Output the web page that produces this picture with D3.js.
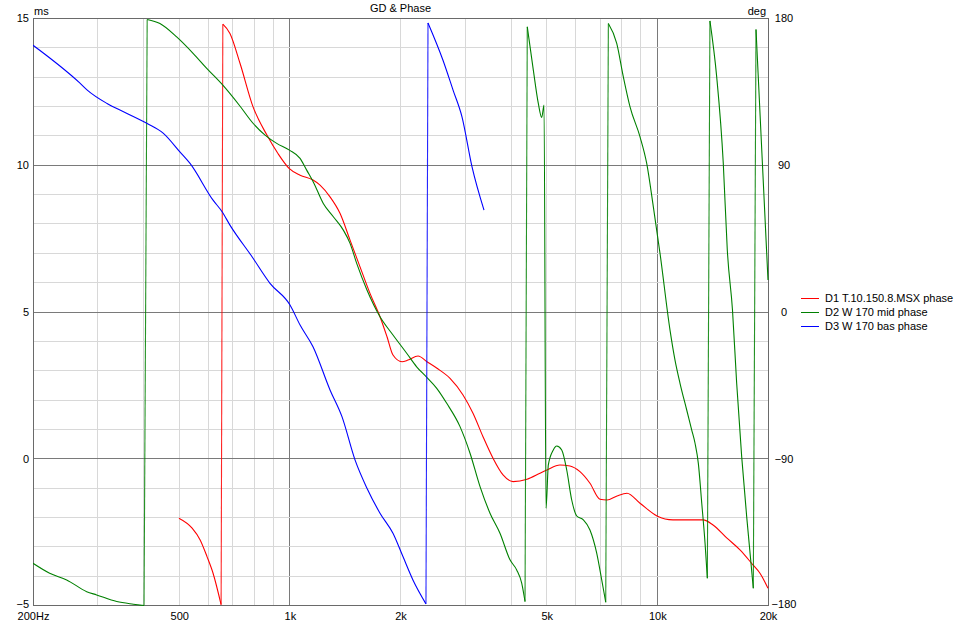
<!DOCTYPE html>
<html><head><meta charset="utf-8">
<script src="https://cdn.jsdelivr.net/npm/d3@7"></script>
<style>
body{margin:0;background:#fff}
svg{display:block}
text{font-family:"Liberation Sans",Arial,sans-serif;font-size:11px;fill:#000}
</style>
</head><body>
<svg id="c" width="964" height="624"></svg>
<script>
// ---- data ----
const title = "GD & Phase";
const seriesNames = ["D1 T.10.150.8.MSX phase", "D2 W 170 mid phase", "D3 W 170 bas phase"];
const seriesColors = ["#ff0000", "#008000", "#0000ff"];

const xTickValues = [200, 500, 1000, 2000, 5000, 10000, 20000];
const xTickLabels = ["200Hz", "500", "1k", "2k", "5k", "10k", "20k"];
const msTicks = [-5, 0, 5, 10, 15];
const degTicks = [-180, -90, 0, 90, 180];

const d1Freq = [499,542,570,595,618,650,657,687,732,794,866,928,995,1066,1156,1208,1286,1369,1458,1552,1652,1759,1838,1908,2019,2096,2232,2361,2514,2728,2959,3150,3354,3571,3802,4048,4419,4794,5006,5433,5783,6157,6555,6980,7294,7766,8268,8970,9978,11028,12268,13314,14172,15466,16780,18200,19020,20000];
const d1Phase = [-126.5,-132.6,-139.8,-150,-160.2,-179.5,176.5,170.8,152.4,125.8,108.5,97.2,88.1,83.9,80.9,77.8,70.6,60.5,44.1,27.7,11.4,-2.9,-15.2,-26.4,-30.5,-29.5,-27,-30.5,-34.5,-40.7,-50.9,-62.1,-76.5,-89.7,-99.9,-104,-102.6,-98.9,-96.9,-93.8,-94.4,-97.9,-105,-114.8,-115.3,-112.8,-111.2,-117.3,-125.1,-127.5,-127.5,-127.5,-130.6,-138.7,-145.9,-155.1,-160.2,-169.4];

const d2Freq = [200,222,247,280,298,338,375,401,409,443,492,546,594,657,732,795,856,921,997,1066,1111,1158,1233,1313,1398,1458,1520,1621,1759,1908,2079,2213,2358,2510,2672,2904,3092,3292,3504,3730,3972,4142,4274,4364,4426,4597,4743,4845,4916,4977,5050,5210,5322,5492,5667,5847,6034,6288,6555,6838,7056,7236,7356,7752,8080,8426,8970,9354,9751,10167,10824,11168,11524,12018,12402,12662,12926,13206,13482,13676,13900,14502,15114,15498,16010,16436,16960,17500,17944,18240,18552,19320,20000];
const d2Phase = [-154.1,-160.2,-164.3,-171.5,-173.5,-177.6,-179.2,-180,179.4,176.9,168.7,158.5,149.4,139.1,126.2,115.6,108.5,103.4,99.3,94.2,87,79.8,66.6,58.4,50.2,42.1,29.8,13.5,-2.9,-14.1,-25.3,-33.6,-40.1,-46.8,-56,-70.3,-86.6,-107.1,-123.4,-135.7,-152,-158.2,-166.3,-177.6,174.9,148.3,127.9,119.3,126.9,-120.4,-93.8,-84.6,-82.2,-84.6,-96.9,-115.3,-125.1,-127.5,-133.7,-147.9,-164.3,-178,176.9,164.7,144.2,125.8,107.4,91.1,64.5,36,-11.1,-29.5,-43.7,-60.1,-72.4,-80.5,-92.8,-117.3,-141.8,-163.3,178.5,144.2,91.1,38,1.2,-43.7,-88.7,-125.5,-152,-169.4,173.3,90.1,19.6];

const d3Freq = [200,268,281,318,356,409,452,502,535,618,654,687,789,883,1001,1066,1156,1286,1386,1504,1621,1759,1908,2031,2162,2346,2376,2610,2780,2940,3131,3375];
const d3Phase = [163.6,140.5,136.1,127.9,122.4,115.6,109.7,98.2,91.1,68.6,61.5,53.3,33.9,17.6,4.3,-8,-21.3,-47.8,-64.2,-90.7,-108.1,-123.4,-135.7,-150,-164.3,-179,177.3,154.4,136.1,119.7,89,62.5];

// ---- layout ----
const L = 33, R = 768, T = 18.5, B = 605.5;
const svg = d3.select("#c");
const x = d3.scaleLog().domain([200, 20000]).range([L, R]);
const yMs = d3.scaleLinear().domain([-5, 15]).range([B, T]);
const yDeg = d3.scaleLinear().domain([-180, 180]).range([B, T]);

// grid
const g = svg.append("g").attr("shape-rendering", "crispEdges");
const vMinor = [];
[100, 1000, 10000].forEach(dec => { for (let k = 1; k <= 9; k++) { const f = k * dec; if (f > 200 && f < 20000) vMinor.push(f); } });
g.selectAll("line.vg").data(vMinor).enter().append("line")
  .attr("x1", d => x(d)).attr("x2", d => x(d)).attr("y1", T).attr("y2", B)
  .attr("stroke", d => (d === 1000 || d === 10000) ? "#7a7a7a" : "#d8d8d8").attr("stroke-width", 1);
const hLines = d3.range(-4, 15);
g.selectAll("line.hg").data(hLines).enter().append("line")
  .attr("x1", L).attr("x2", R).attr("y1", d => yMs(d)).attr("y2", d => yMs(d))
  .attr("stroke", d => (d % 5 === 0) ? "#7a7a7a" : "#d8d8d8").attr("stroke-width", 1);
g.append("rect").attr("x", L).attr("y", T).attr("width", R - L).attr("height", B - T)
  .attr("fill", "none").attr("stroke", "#6a6a6a");

// clip
svg.append("clipPath").attr("id", "pc").append("rect")
  .attr("x", L).attr("y", T - 1).attr("width", R - L + 1).attr("height", B - T + 2);

// series
function draw(freq, phase, color) {
  const pts = freq.map((f, i) => [f, phase[i]]);
  const segs = []; let cur = [pts[0]];
  const jumps = [];
  for (let i = 1; i < pts.length; i++) {
    if (Math.abs(pts[i][1] - pts[i - 1][1]) > 300) { segs.push(cur); jumps.push([pts[i - 1], pts[i]]); cur = [pts[i]]; }
    else cur.push(pts[i]);
  }
  segs.push(cur);
  const line = d3.line().x(d => x(d[0])).y(d => yDeg(d[1])).curve(d3.curveMonotoneX);
  const gg = svg.append("g").attr("clip-path", "url(#pc)");
  segs.forEach(s => gg.append("path").attr("d", line(s)).attr("fill", "none").attr("stroke", color).attr("stroke-width", 1.1));
  const lin = d3.line().x(d => x(d[0])).y(d => yDeg(d[1]));
  jumps.forEach(j => gg.append("path").attr("d", lin(j)).attr("fill", "none").attr("stroke", color).attr("stroke-width", 1.1).attr("stroke-opacity", 0.85));
}
draw(d1Freq, d1Phase, seriesColors[0]);
draw(d2Freq, d2Phase, seriesColors[1]);
draw(d3Freq, d3Phase, seriesColors[2]);

// axes
const axL = d3.axisLeft(yMs).tickValues(msTicks).tickSize(0).tickPadding(4).tickFormat(d3.format("d"));
const gl = svg.append("g").attr("transform", `translate(${L},0)`).call(axL);
gl.selectAll("text").attr("dy", d => d === -5 ? "0.15em" : "0.3em");
const axR = d3.axisRight(yDeg).tickValues(degTicks).tickSize(0).tickPadding(0).tickFormat(d3.format("d"));
const gr = svg.append("g").attr("transform", `translate(784,0)`).call(axR);
gr.selectAll("text").attr("text-anchor", "middle").attr("x", 0).attr("dy", d => d === -180 ? "0.15em" : "0.3em");
const axB = d3.axisBottom(x).tickValues(xTickValues).tickSize(0).tickPadding(0)
  .tickFormat((d, i) => xTickLabels[i]);
const gb = svg.append("g").attr("transform", `translate(0,${B})`).call(axB);
gb.selectAll("text").attr("y", 14).attr("dy", 0);
[gl, gr, gb].forEach(a => { a.select(".domain").remove(); a.selectAll("text").attr("font-size", 11).attr("font-family", '"Liberation Sans",Arial,sans-serif').attr("fill", "#000"); });

// titles
svg.append("text").attr("x", (L + R) / 2).attr("y", 12).attr("text-anchor", "middle").text(title);
svg.append("text").attr("x", 34).attr("y", 15).text("ms");
svg.append("text").attr("x", 766).attr("y", 15).attr("text-anchor", "end").text("deg");

// legend
const lg = svg.append("g");
seriesNames.forEach((n, i) => {
  const yy = 298 + i * 14;
  lg.append("line").attr("x1", 801).attr("x2", 819).attr("y1", yy + 0.5).attr("y2", yy + 0.5)
    .attr("stroke", seriesColors[i]).attr("stroke-width", 1);
  lg.append("text").attr("x", 825).attr("y", yy).attr("dy", "0.35em").text(n);
});
</script>
</body></html>
